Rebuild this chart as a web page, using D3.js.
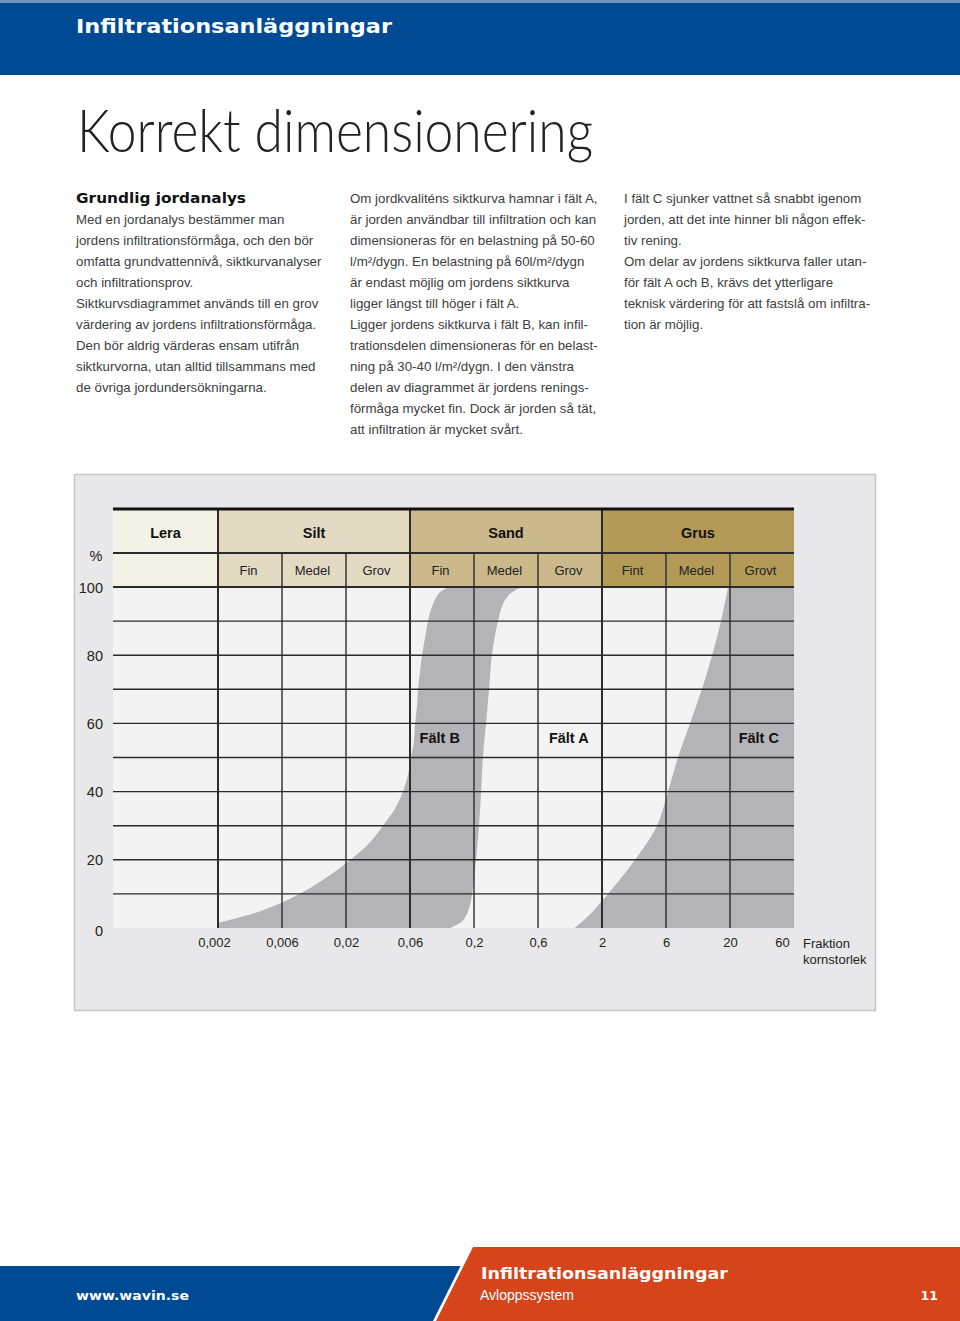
<!DOCTYPE html>
<html><head><meta charset="utf-8">
<script src="https://cdn.jsdelivr.net/npm/d3@7"></script>
<style>body{margin:0;background:#fff} svg{display:block}</style>
</head><body>
<script>
// ---------- DATA ----------
const xTicks = [0.002, 0.006, 0.02, 0.06, 0.2, 0.6, 2, 6, 20, 60];
const xTickLabels = ["0,002", "0,006", "0,02", "0,06", "0,2", "0,6", "2", "6", "20", "60"];
const yTicks = [0, 20, 40, 60, 80, 100];
const yGrid = [10, 20, 30, 40, 50, 60, 70, 80, 90];
const mainClasses = ["Lera", "Silt", "Sand", "Grus"];
const mainFrom = [null, 0.002, 0.06, 2];
const mainTo = [0.002, 0.06, 2, 60];
const subClasses = ["Fin", "Medel", "Grov", "Fin", "Medel", "Grov", "Fint", "Medel", "Grovt"];
// Field B: left (outer) boundary, bottom -> top  [grain mm, % passing]
const fieldBLeft = [[0.002,1.5],[0.0035,4],[0.006,7.5],[0.011,12.5],[0.02,19],[0.030,25],[0.0377,30],[0.0464,35],[0.0532,40],[0.058,45],[0.0611,50],[0.0647,55],[0.066,60],[0.0685,65],[0.0697,70],[0.0724,75],[0.0752,80],[0.0796,85],[0.0842,90],[0.0925,95],[0.1055,98.5],[0.127,100]];
// Field B: right boundary, top -> bottom
const fieldBRight = [[0.456,100],[0.371,98],[0.329,95],[0.302,90],[0.272,80],[0.259,70],[0.246,60],[0.233,50],[0.226,40],[0.218,30],[0.207,20],[0.193,10],[0.179,5],[0.160,2],[0.127,0]];
// Field C: left boundary, bottom -> top
const fieldCLeft = [[1.2,0],[1.6,4],[2.0,8],[2.22,10],[3.53,20],[5.14,30],[6.23,40],[7.52,50],[9.43,60],[11.8,70],[14.3,80],[16.9,90],[19.3,100]];
const fieldLabels = ["Fält B", "Fält A", "Fält C"];
const fieldLabelX = [0.105, 1.07, 32.8];
const fieldLabelY = [55.7, 55.7, 55.7];

const col1 = ["Med en jordanalys bestämmer man","jordens infiltrationsförmåga, och den bör","omfatta grundvattennivå, siktkurvanalyser","och infiltrationsprov.","Siktkurvsdiagrammet används till en grov","värdering av jordens infiltrationsförmåga.","Den bör aldrig värderas ensam utifrån","siktkurvorna, utan alltid tillsammans med","de övriga jordundersökningarna."];
const col2 = ["Om jordkvaliténs siktkurva hamnar i fält A,","är jorden användbar till infiltration och kan","dimensioneras för en belastning på 50-60","l/m²/dygn. En belastning på 60l/m²/dygn","är endast möjlig om jordens siktkurva","ligger längst till höger i fält A.","Ligger jordens siktkurva i fält B, kan infil-","trationsdelen dimensioneras för en belast-","ning på 30-40 l/m²/dygn. I den vänstra","delen av diagrammet är jordens renings-","förmåga mycket fin. Dock är jorden så tät,","att infiltration är mycket svårt."];
const col3 = ["I fält C sjunker vattnet så snabbt igenom","jorden, att det inte hinner bli någon effek-","tiv rening.","Om delar av jordens siktkurva faller utan-","för fält A och B, krävs det ytterligare","teknisk värdering för att fastslå om infiltra-","tion är möjlig."];

// ---------- LAYOUT ----------
const W = 960, H = 1321;
const BLUE = "#004a93", ORANGE = "#d5441a";
const sans = "'Liberation Sans', Arial, Helvetica, sans-serif";
const wide = "'DejaVu Sans', Verdana, sans-serif";

const svg = d3.select("body").append("svg").attr("width", W).attr("height", H);
svg.append("rect").attr("width", W).attr("height", H).attr("fill", "#fff");

// header band
svg.append("rect").attr("x",0).attr("y",0).attr("width",W).attr("height",3).attr("fill","#6f93bd");
svg.append("rect").attr("x",0).attr("y",3).attr("width",W).attr("height",72).attr("fill",BLUE);
svg.append("text").attr("x",76).attr("y",33).attr("fill","#fff")
  .attr("font-family",wide).attr("font-weight","bold").attr("font-size",19)
  .attr("textLength",316).attr("lengthAdjust","spacingAndGlyphs")
  .text("Infiltrationsanläggningar");

// title
svg.append("text").attr("x",77).attr("y",152).attr("fill","#222")
  .attr("font-family","Lato, Roboto, 'Open Sans', sans-serif").attr("font-weight",300).attr("font-size",60)
  .attr("textLength",516).attr("lengthAdjust","spacingAndGlyphs")
  .text("Korrekt dimensionering");

// text columns
const lh = 21, y0 = 203;
svg.append("text").attr("x",76).attr("y",y0).attr("fill","#111")
  .attr("font-family",wide).attr("font-weight","bold").attr("font-size",14.5)
  .attr("textLength",170).attr("lengthAdjust","spacingAndGlyphs").text("Grundlig jordanalys");
function column(lines, x, startIdx) {
  svg.append("g").selectAll("text").data(lines).join("text")
    .attr("x", x).attr("y", (d,i) => y0 + (i + startIdx) * lh)
    .attr("fill","#404040").attr("font-family",sans).attr("font-size",13.3)
    .text(d => d);
}
column(col1, 76, 1);
column(col2, 350, 0);
column(col3, 624, 0);

// ---------- CHART ----------
svg.append("rect").attr("x",74.5).attr("y",474.5).attr("width",801).attr("height",536)
  .attr("fill","#e8e8ea").attr("stroke","#c6c6c8").attr("stroke-width",1.5);

const plotLeft = 113, plotRight = 794, top1 = 509, top2 = 553, plotTop = 587, plotBottom = 928;
const xPos = xTicks.map((d,i) => 218 + i * 64);
const x = d3.scaleLog().domain(xTicks).range(xPos);
const y = d3.scaleLinear().domain([0,100]).range([plotBottom, plotTop]);

// header cells
const mainColors = ["#f4f1e7", "#e2dac3", "#ccb98b", "#b39a57"];
const g = svg.append("g");
mainClasses.forEach((name, i) => {
  const x0 = mainFrom[i] === null ? plotLeft : x(mainFrom[i]);
  const x1 = x(mainTo[i]);
  g.append("rect").attr("x",x0).attr("y",top1).attr("width",x1-x0).attr("height",plotTop-top1).attr("fill",mainColors[i]);
  g.append("text").attr("x",(x0+x1)/2).attr("y",538).attr("text-anchor","middle")
    .attr("font-family",sans).attr("font-weight","bold").attr("font-size",14.5).attr("fill","#111").text(name);
});
subClasses.forEach((name, i) => {
  const x0 = x(xTicks[i]), x1 = x(xTicks[i+1]);
  g.append("text").attr("x",(x0+x1)/2 - 1.5).attr("y",574.5).attr("text-anchor","middle")
    .attr("font-family",sans).attr("font-size",13).attr("fill","#222").text(name);
});

// plot background
svg.append("rect").attr("x",plotLeft).attr("y",plotTop).attr("width",plotRight-plotLeft).attr("height",plotBottom-plotTop).attr("fill","#f3f3f3");

// fields
svg.append("clipPath").attr("id","pc").append("rect")
  .attr("x",plotLeft).attr("y",plotTop).attr("width",plotRight-plotLeft).attr("height",plotBottom-plotTop);
const line = d3.line().x(d => x(d[0])).y(d => y(d[1])).curve(d3.curveCatmullRom.alpha(0.5));
const FIELD = "#b4b3b8";
const pathB = "M" + x(0.002) + "," + y(0) + line(fieldBLeft).replace(/^M/,"L") + line(fieldBRight).replace(/^M/,"L") + "Z";
svg.append("path").attr("d",pathB).attr("fill",FIELD).attr("clip-path","url(#pc)");
const pathC = line(fieldCLeft) + "L" + x(60) + "," + y(100) + "L" + x(60) + "," + y(0) + "Z";
svg.append("path").attr("d",pathC).attr("fill",FIELD).attr("clip-path","url(#pc)");

// grid lines
const grid = svg.append("g").attr("stroke","#2b2b2b");
grid.selectAll(".h").data(yGrid).join("line")
  .attr("x1",plotLeft).attr("x2",plotRight).attr("y1",d=>y(d)).attr("y2",d=>y(d)).attr("stroke-width",1.4);
const major = [0.002, 0.06, 2];
grid.selectAll(".v").data(xTicks.slice(0, 9)).join("line")
  .attr("x1",d=>x(d)).attr("x2",d=>x(d))
  .attr("y1",d=> major.includes(d) ? top1 : top2).attr("y2",plotBottom)
  .attr("stroke-width",d=> major.includes(d) ? 2 : 1.4);
grid.append("line").attr("x1",plotLeft).attr("x2",plotRight).attr("y1",top2).attr("y2",top2).attr("stroke-width",1.8);
grid.append("line").attr("x1",plotLeft).attr("x2",plotRight).attr("y1",plotTop).attr("y2",plotTop).attr("stroke-width",2.2);
grid.append("line").attr("x1",plotLeft).attr("x2",plotRight).attr("y1",top1).attr("y2",top1).attr("stroke","#111").attr("stroke-width",3);

// field labels
svg.append("g").selectAll("text").data(fieldLabels).join("text")
  .attr("x",(d,i)=>x(fieldLabelX[i])).attr("y",(d,i)=>y(fieldLabelY[i]) + 5).attr("text-anchor","middle")
  .attr("font-family",sans).attr("font-weight","bold").attr("font-size",14.5).attr("fill","#111").text(d=>d);

// y axis
const yAxis = svg.append("g").attr("transform","translate(103,0)")
  .call(d3.axisLeft(y).tickValues(yTicks).tickSize(0).tickPadding(0).tickFormat(d3.format("d")));
yAxis.select(".domain").remove();
yAxis.selectAll("text").attr("font-family",sans).attr("font-size",14.5).attr("fill","#222").attr("dy","0.35em");
yAxis.selectAll(".tick").filter(d => d === 0).select("text").attr("dy","0.55em");
svg.append("text").attr("x",96).attr("y",561).attr("text-anchor","middle")
  .attr("font-family",sans).attr("font-size",14.5).attr("fill","#222").text("%");

// x axis
const xAxis = svg.append("g").attr("transform","translate(0," + 938 + ")")
  .call(d3.axisBottom(x).tickValues(xTicks).tickSize(0).tickPadding(0).tickFormat((d,i)=>xTickLabels[i]));
xAxis.select(".domain").remove();
xAxis.selectAll("text").attr("font-family",sans).attr("font-size",13).attr("fill","#222").attr("dy","0.71em");
xAxis.selectAll(".tick").filter(d => d === 60).select("text").attr("dx","-12");
xAxis.selectAll(".tick").filter(d => d === 0.002).select("text").attr("dx","-4");
svg.append("text").attr("x",803).attr("y",948).attr("font-family",sans).attr("font-size",13).attr("fill","#222").text("Fraktion");
svg.append("text").attr("x",803).attr("y",964).attr("font-family",sans).attr("font-size",13).attr("fill","#222").text("kornstorlek");

// ---------- FOOTER ----------
svg.append("polygon").attr("points","473,1247 960,1247 960,1321 436,1321").attr("fill",ORANGE);
svg.append("polygon").attr("points","0,1266 460.5,1266 433,1321 0,1321").attr("fill",BLUE);
svg.append("text").attr("x",76).attr("y",1300).attr("fill","#fff")
  .attr("font-family",wide).attr("font-weight","bold").attr("font-size",12.5)
  .attr("textLength",113).attr("lengthAdjust","spacingAndGlyphs").text("www.wavin.se");
svg.append("text").attr("x",481).attr("y",1279).attr("fill","#fff")
  .attr("font-family",wide).attr("font-weight","bold").attr("font-size",15)
  .attr("textLength",247).attr("lengthAdjust","spacingAndGlyphs").text("Infiltrationsanläggningar");
svg.append("text").attr("x",480).attr("y",1300).attr("fill","#fff")
  .attr("font-family",sans).attr("font-size",14).text("Avloppssystem");
svg.append("text").attr("x",938).attr("y",1300).attr("fill","#fff").attr("text-anchor","end")
  .attr("font-family",wide).attr("font-weight","bold").attr("font-size",12.5).text("11");
</script>
</body></html>
